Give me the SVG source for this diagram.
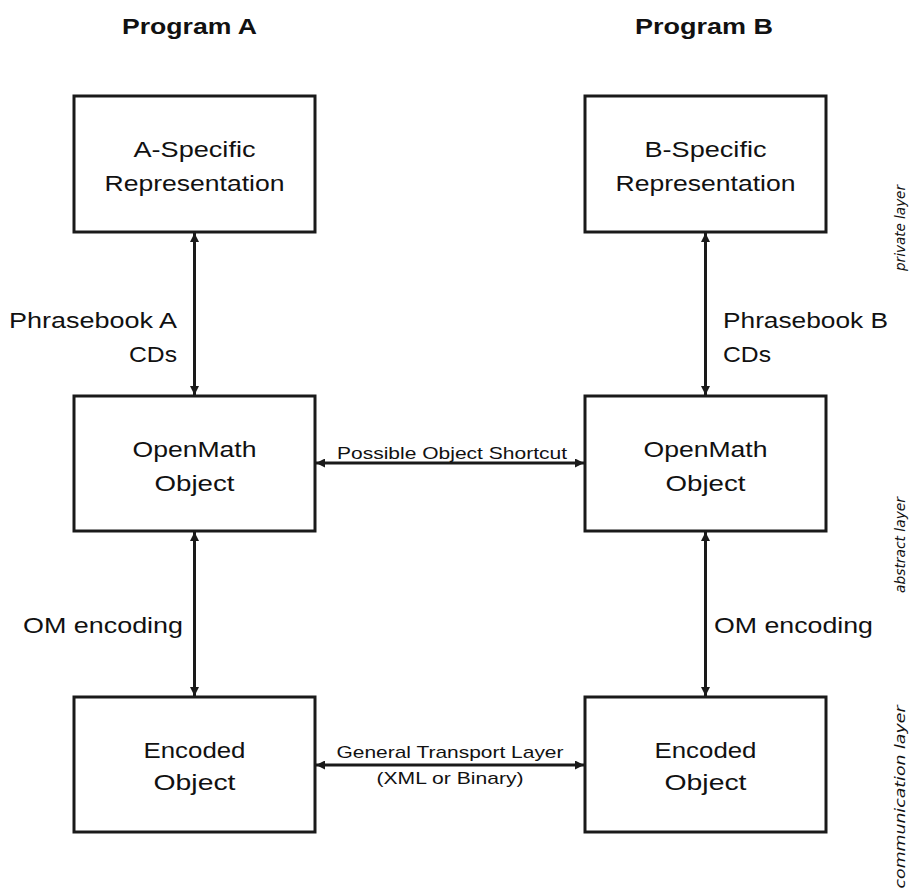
<svg xmlns="http://www.w3.org/2000/svg" width="910" height="893" viewBox="0 0 910 893">
<style>
  .box { fill: #ffffff; stroke: #1a1a1a; stroke-width: 3; }
  .t { font-family: "Liberation Sans", Arial, sans-serif; font-size: 22px; fill: #111; }
  .c { text-anchor: middle; }
  .s { font-family: "Liberation Sans", Arial, sans-serif; font-size: 17px; fill: #111; text-anchor: middle; }
  .h { font-family: "Liberation Sans", Arial, sans-serif; font-size: 22px; font-weight: bold; fill: #111; text-anchor: middle; }
  .r { font-family: "Liberation Sans Narrow", "DejaVu Sans Condensed", "Liberation Sans", sans-serif; font-size: 14px; font-style: italic; fill: #111; text-anchor: middle; }
  .ln { stroke: #1a1a1a; stroke-width: 3; fill: none; }
</style>
<defs>
  <marker id="ah" viewBox="0 0 10 10" refX="10" refY="5" markerWidth="11" markerHeight="9" markerUnits="userSpaceOnUse" orient="auto-start-reverse">
    <path d="M0,0 L10,5 L0,10 z" fill="#1a1a1a"/>
  </marker>
</defs>
<rect width="910" height="893" fill="#ffffff"/>

<text class="h" x="189.5" y="34" textLength="135" lengthAdjust="spacingAndGlyphs">Program A</text>
<text class="h" x="704" y="34" textLength="138" lengthAdjust="spacingAndGlyphs">Program B</text>

<g id="connectors">
  <line class="ln" x1="194.5" y1="233" x2="194.5" y2="395" marker-start="url(#ah)" marker-end="url(#ah)"/>
  <line class="ln" x1="705.5" y1="233" x2="705.5" y2="395" marker-start="url(#ah)" marker-end="url(#ah)"/>
  <line class="ln" x1="194.5" y1="532" x2="194.5" y2="696" marker-start="url(#ah)" marker-end="url(#ah)"/>
  <line class="ln" x1="705.5" y1="532" x2="705.5" y2="696" marker-start="url(#ah)" marker-end="url(#ah)"/>
  <line class="ln" x1="316" y1="463" x2="584" y2="463" marker-start="url(#ah)" marker-end="url(#ah)"/>
  <line class="ln" x1="316" y1="765" x2="584" y2="765" marker-start="url(#ah)" marker-end="url(#ah)"/>
  <text class="t" x="177" y="328" text-anchor="end" textLength="168" lengthAdjust="spacingAndGlyphs">Phrasebook A</text>
  <text class="t" x="177" y="362" text-anchor="end" textLength="48" lengthAdjust="spacingAndGlyphs">CDs</text>
  <text class="t" x="723" y="328" textLength="165" lengthAdjust="spacingAndGlyphs">Phrasebook B</text>
  <text class="t" x="723" y="362" textLength="48" lengthAdjust="spacingAndGlyphs">CDs</text>
  <text class="t" x="23" y="633" textLength="160" lengthAdjust="spacingAndGlyphs">OM encoding</text>
  <text class="t" x="714" y="633" textLength="159" lengthAdjust="spacingAndGlyphs">OM encoding</text>
  <text class="s" x="452" y="459" textLength="230" lengthAdjust="spacingAndGlyphs">Possible Object Shortcut</text>
  <text class="s" x="450" y="758" textLength="227" lengthAdjust="spacingAndGlyphs">General Transport Layer</text>
  <text class="s" x="450" y="784" textLength="147" lengthAdjust="spacingAndGlyphs">(XML or Binary)</text>
</g>

<g id="a-specific">
  <rect class="box" x="74" y="96" width="241" height="136"/>
  <text class="t c" x="194.5" y="157" textLength="122" lengthAdjust="spacingAndGlyphs">A-Specific</text>
  <text class="t c" x="194.5" y="191" textLength="180" lengthAdjust="spacingAndGlyphs">Representation</text>
</g>
<g id="b-specific">
  <rect class="box" x="585" y="96" width="241" height="136"/>
  <text class="t c" x="705.5" y="157" textLength="122" lengthAdjust="spacingAndGlyphs">B-Specific</text>
  <text class="t c" x="705.5" y="191" textLength="180" lengthAdjust="spacingAndGlyphs">Representation</text>
</g>
<g id="openmath-a">
  <rect class="box" x="74" y="396" width="241" height="135"/>
  <text class="t c" x="194.5" y="457" textLength="124" lengthAdjust="spacingAndGlyphs">OpenMath</text>
  <text class="t c" x="194.5" y="491" textLength="80" lengthAdjust="spacingAndGlyphs">Object</text>
</g>
<g id="openmath-b">
  <rect class="box" x="585" y="396" width="241" height="135"/>
  <text class="t c" x="705.5" y="457" textLength="124" lengthAdjust="spacingAndGlyphs">OpenMath</text>
  <text class="t c" x="705.5" y="491" textLength="80" lengthAdjust="spacingAndGlyphs">Object</text>
</g>
<g id="encoded-a">
  <rect class="box" x="74" y="697" width="241" height="135"/>
  <text class="t c" x="194.5" y="758" textLength="102" lengthAdjust="spacingAndGlyphs">Encoded</text>
  <text class="t c" x="194.5" y="790" textLength="82" lengthAdjust="spacingAndGlyphs">Object</text>
</g>
<g id="encoded-b">
  <rect class="box" x="585" y="697" width="241" height="135"/>
  <text class="t c" x="705.5" y="758" textLength="102" lengthAdjust="spacingAndGlyphs">Encoded</text>
  <text class="t c" x="705.5" y="790" textLength="82" lengthAdjust="spacingAndGlyphs">Object</text>
</g>

<g id="layer-labels">
  <text class="r" transform="translate(905,228) rotate(-90)" textLength="86" lengthAdjust="spacingAndGlyphs">private layer</text>
  <text class="r" transform="translate(905,545) rotate(-90)" textLength="96" lengthAdjust="spacingAndGlyphs">abstract layer</text>
  <text class="r" transform="translate(905,797) rotate(-90)" textLength="183" lengthAdjust="spacingAndGlyphs">communication layer</text>
</g>
</svg>
